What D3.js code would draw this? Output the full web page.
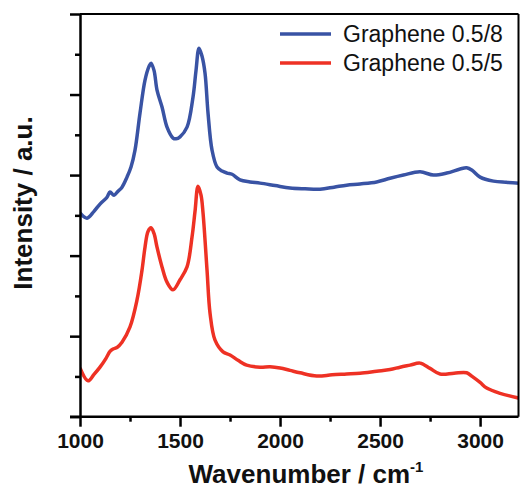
<!DOCTYPE html>
<html>
<head>
<meta charset="utf-8">
<script src="https://cdn.jsdelivr.net/npm/d3@7"></script>
<style>
  body { margin: 0; background: #fff; }
  text { font-family: "Liberation Sans", Arial, sans-serif; }
</style>
</head>
<body>
<div class="chart"></div>
<script>
// series: [wavenumber, intensity]
var seriesNames = ["Graphene 0.5/8", "Graphene 0.5/5"];
var seriesColors = ["#3953a4", "#ee3124"];

var blueData = [[1000,5.06],[1035,4.93],[1070,5.1],[1100,5.28],[1135,5.45],[1150,5.58],[1170,5.5],[1190,5.6],[1210,5.70],[1235,5.95],[1255,6.2],[1275,6.62],[1300,7.54],[1325,8.36],[1345,8.7],[1355,8.78],[1370,8.6],[1385,8.11],[1410,7.69],[1435,7.19],[1465,6.92],[1480,6.9],[1500,6.95],[1535,7.19],[1565,7.94],[1580,8.6],[1595,9.15],[1610,8.95],[1625,8.53],[1640,7.54],[1660,6.62],[1685,6.2],[1710,6.1],[1735,6.05],[1760,6.02],[1800,5.88],[1850,5.83],[1900,5.80],[1975,5.74],[2050,5.68],[2125,5.66],[2200,5.65],[2270,5.7],[2333,5.75],[2400,5.78],[2483,5.83],[2550,5.92],[2617,6.0],[2700,6.08],[2767,6.0],[2833,6.05],[2900,6.15],[2933,6.18],[2960,6.12],[3000,5.95],[3067,5.85],[3130,5.82],[3195,5.80]];

var redData = [[1000,1.21],[1040,0.89],[1070,1.05],[1100,1.23],[1130,1.45],[1150,1.62],[1165,1.68],[1185,1.72],[1210,1.85],[1250,2.23],[1285,2.90],[1310,3.64],[1325,4.21],[1340,4.6],[1355,4.69],[1370,4.55],[1385,4.21],[1410,3.72],[1435,3.34],[1465,3.15],[1500,3.40],[1535,3.72],[1560,4.46],[1575,5.1],[1590,5.72],[1605,5.5],[1615,5.06],[1635,3.64],[1650,2.57],[1675,1.90],[1715,1.61],[1750,1.53],[1790,1.4],[1833,1.28],[1900,1.23],[1950,1.24],[2000,1.21],[2050,1.15],[2100,1.09],[2183,1.01],[2260,1.04],[2333,1.06],[2400,1.08],[2483,1.13],[2550,1.17],[2600,1.23],[2650,1.28],[2700,1.33],[2750,1.2],[2800,1.06],[2870,1.08],[2933,1.09],[2960,1.0],[3000,0.85],[3033,0.71],[3100,0.58],[3195,0.46]];

var xTicks = [1000, 1500, 2000, 2500, 3000];
var xMinorTicks = [1250, 1750, 2250, 2750];
var yTicks = [0, 2, 4, 6, 8, 10];
var yMinorTicks = [1, 3, 5, 7, 9];

var W = 520, H = 491;
var pLeft = 80, pTop = 14, pRight = 518.5, pBottom = 416.7;

var svg = d3.select(".chart")
            .append("svg")
            .attr("width", W)
            .attr("height", H);

var xScale = d3.scaleLinear()
               .domain([1000, 3192])
               .range([pLeft, pRight]);
var yScale = d3.scaleLinear()
               .domain([0, 10])
               .range([pBottom, pTop]);

svg.append("clipPath")
   .attr("id", "clip")
   .append("rect")
   .attr("x", pLeft).attr("y", pTop)
   .attr("width", pRight - pLeft).attr("height", pBottom - pTop);

var line = d3.line()
             .x(function(d) { return xScale(d[0]); })
             .y(function(d) { return yScale(d[1]); })
             .curve(d3.curveCatmullRom);

[blueData, redData].forEach(function(data, i) {
    svg.append("path")
       .attr("clip-path", "url(#clip)")
       .attr("fill", "none")
       .attr("stroke", seriesColors[i])
       .attr("stroke-width", 3.5)
       .attr("stroke-linejoin", "round")
       .attr("d", line(data));
});

// frame top / right
svg.append("line").attr("x1", pLeft).attr("x2", pRight).attr("y1", pTop).attr("y2", pTop)
   .attr("stroke", "#000").attr("stroke-width", 2);
svg.append("line").attr("x1", pRight).attr("x2", pRight).attr("y1", pTop).attr("y2", pBottom)
   .attr("stroke", "#000").attr("stroke-width", 2);

// x axis
var xAxis = d3.axisBottom(xScale).tickValues(xTicks).tickSize(10).tickSizeOuter(0).tickFormat(d3.format("d"));
svg.append("g")
   .attr("transform", `translate(0,${pBottom})`)
   .call(xAxis)
   .call(g => {
       g.select(".domain").attr("stroke-width", 2.5).attr("d", `M${pLeft - 10},0H${pRight}`);
       g.selectAll("line").attr("stroke-width", 2.5);
       g.selectAll("text")
        .attr("y", 16)
        .style("font-size", "21px")
        .style("font-weight", "bold")
        .style("font-family", '"Liberation Sans", Arial, sans-serif')
        .attr("fill", "#111");
   });
svg.append("g")
   .attr("transform", `translate(0,${pBottom})`)
   .call(d3.axisBottom(xScale).tickValues(xMinorTicks).tickSize(5).tickFormat(""))
   .call(g => {
       g.select(".domain").remove();
       g.selectAll("line").attr("stroke-width", 2.5);
   });

// y axis
svg.append("g")
   .attr("transform", `translate(${pLeft},0)`)
   .call(d3.axisLeft(yScale).tickValues(yTicks).tickSize(10).tickSizeOuter(0).tickFormat(""))
   .call(g => {
       g.select(".domain").attr("stroke-width", 2.5);
       g.selectAll("line").attr("stroke-width", 2.5);
   });
svg.append("g")
   .attr("transform", `translate(${pLeft},0)`)
   .call(d3.axisLeft(yScale).tickValues(yMinorTicks).tickSize(5).tickFormat(""))
   .call(g => {
       g.select(".domain").remove();
       g.selectAll("line").attr("stroke-width", 2.5);
   });

// axis titles
var xTitle = svg.append("text")
   .attr("x", 306)
   .attr("y", 483)
   .attr("text-anchor", "middle")
   .style("font-size", "26px")
   .style("font-weight", "bold")
   .attr("fill", "#111");
xTitle.append("tspan").text("Wavenumber / cm");
xTitle.append("tspan").attr("dy", -11).style("font-size", "15px").text("-1");

svg.append("text")
   .attr("transform", "translate(32,203) rotate(-90)")
   .attr("text-anchor", "middle")
   .style("font-size", "26px")
   .style("font-weight", "bold")
   .attr("fill", "#111")
   .text("Intensity / a.u.");

// legend
var legend = svg.selectAll(".legend")
    .data(seriesNames)
    .enter().append("g")
    .attr("class", "legend")
    .attr("transform", function(d, i) { return "translate(280," + (34 + i * 29) + ")"; });

legend.append("line")
      .attr("x1", 0).attr("x2", 51)
      .attr("stroke", function(d, i) { return seriesColors[i]; })
      .attr("stroke-width", 3.5);

legend.append("text")
      .attr("x", 63)
      .attr("y", 8)
      .style("font-size", "23px")
      .attr("fill", "#111")
      .text(d => d);
</script>
</body>
</html>
